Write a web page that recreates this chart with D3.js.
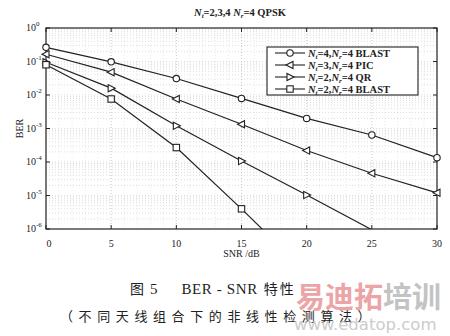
<!DOCTYPE html>
<html>
<head>
<meta charset="utf-8">
<script src="https://cdn.jsdelivr.net/npm/d3@7"></script>
<style>
  body { margin: 0; background: #fff; }
  svg { display: block; }
</style>
</head>
<body>
<script>
// data
var snr = [0, 5, 10, 15, 20, 25, 30];
var blast4 = [0.265, 0.098, 0.031, 0.0079, 0.002, 0.00064, 0.000135];
var pic3 = [0.165, 0.048, 0.0076, 0.00134, 0.00022, 0.000046, 0.000012];
var qr2 = [0.095, 0.016, 0.0012, 0.000107, 0.0000103, 0.00000095];
var blast2 = [0.08, 0.0076, 0.00027, 0.000004, 0.00000005];
var xTicks = [0, 5, 10, 15, 20, 25, 30];
var yExps = [0, -1, -2, -3, -4, -5, -6];
var legendLabels = [["4", "4 BLAST"], ["3", "4 PIC"], ["2", "4 QR"], ["2", "4 BLAST"]];

var W = 450, H = 336;
var margin = {top: 28, right: 13, bottom: 107, left: 46};
var width = W - margin.left - margin.right,
    height = H - margin.top - margin.bottom;

var svg = d3.select("body").append("svg")
    .attr("width", W).attr("height", H)
    .style("font-family", "'Liberation Serif', 'DejaVu Serif', serif");

var x = d3.scaleLinear().domain([0, 30]).range([margin.left, margin.left + width]);
var y = d3.scaleLog().domain([1e-6, 1]).range([margin.top + height, margin.top]);

// grid: dotted
var grid = svg.append("g").attr("stroke", "#999").attr("stroke-width", 0.6)
    .attr("stroke-dasharray", "1,2");
for (var s = 1; s < 30; s++) {
    grid.append("line").attr("x1", x(s)).attr("x2", x(s))
        .attr("y1", y(1)).attr("y2", y(1e-6))
        .attr("stroke-opacity", s % 5 == 0 ? 0.9 : 0.35);
}
y.ticks().forEach(function(t) {
    if (t <= 1e-6 || t >= 1) return;
    grid.append("line").attr("x1", x(0)).attr("x2", x(30))
        .attr("y1", y(t)).attr("y2", y(t))
        .attr("stroke-opacity", 0.55);
});

// frame
svg.append("rect").attr("x", x(0)).attr("y", y(1))
    .attr("width", width).attr("height", height)
    .attr("fill", "none").attr("stroke", "#222").attr("stroke-width", 1.2);

// inward ticks
var tk = svg.append("g").attr("stroke", "#222").attr("stroke-width", 1);
xTicks.forEach(function(t) {
    tk.append("line").attr("x1", x(t)).attr("x2", x(t)).attr("y1", y(1e-6)).attr("y2", y(1e-6) - 4);
    tk.append("line").attr("x1", x(t)).attr("x2", x(t)).attr("y1", y(1)).attr("y2", y(1) + 4);
});
yExps.forEach(function(e) {
    var v = Math.pow(10, e);
    tk.append("line").attr("x1", x(0)).attr("x2", x(0) + 4).attr("y1", y(v)).attr("y2", y(v));
    tk.append("line").attr("x1", x(30)).attr("x2", x(30) - 4).attr("y1", y(v)).attr("y2", y(v));
});

// tick labels
svg.append("g").selectAll("text").data(xTicks).enter().append("text")
    .attr("x", d => x(d) + (d == 0 ? 3 : 0)).attr("y", y(1e-6) + 18)
    .attr("text-anchor", "middle").attr("font-size", 10).attr("fill", "#222")
    .text(d => d);

var yl = svg.append("g").selectAll("text").data(yExps).enter().append("text")
    .attr("x", 26).attr("y", d => y(Math.pow(10, d)) + 3)
    .attr("font-size", 10).attr("fill", "#222");
yl.append("tspan").text("10");
yl.append("tspan").attr("dy", -5).attr("font-size", 7).text(d => d);

// axis titles
svg.append("text").attr("x", x(15)).attr("y", 257).attr("text-anchor", "middle")
    .attr("font-size", 10).attr("fill", "#222").text("SNR /dB");
svg.append("text").attr("transform", "translate(23," + y(1e-3) + ") rotate(-90)")
    .attr("text-anchor", "middle").attr("font-size", 10).attr("fill", "#222").text("BER");

// title
var title = svg.append("text").attr("x", 240).attr("y", 16).attr("text-anchor", "middle")
    .attr("font-size", 10.5).attr("font-weight", "bold").attr("fill", "#222");
title.append("tspan").attr("font-style", "italic").text("N");
title.append("tspan").attr("font-size", 7).attr("dy", 2).attr("font-style", "italic").text("t");
title.append("tspan").attr("dy", -2).text("=2,3,4 ");
title.append("tspan").attr("font-style", "italic").text("N");
title.append("tspan").attr("font-size", 7).attr("dy", 2).attr("font-style", "italic").text("r");
title.append("tspan").attr("dy", -2).text("=4 QPSK");

// series
var series = [
    {vals: blast4, mark: "circle"},
    {vals: pic3, mark: "left"},
    {vals: qr2, mark: "right"},
    {vals: blast2, mark: "square"}
];

svg.append("clipPath").attr("id", "clip").append("rect")
    .attr("x", x(0) - 6).attr("y", y(1)).attr("width", width + 12).attr("height", height);

var line = d3.line().x((d, i) => x(snr[i])).y(d => y(d));
var plot = svg.append("g").attr("clip-path", "url(#clip)");

function drawMark(g, type, cx, cy) {
    if (type == "circle") {
        g.append("circle").attr("cx", cx).attr("cy", cy).attr("r", 3.2);
    } else if (type == "square") {
        g.append("rect").attr("x", cx - 3.2).attr("y", cy - 3.2).attr("width", 6.4).attr("height", 6.4);
    } else if (type == "left") {
        g.append("path").attr("d", "M" + (cx - 4) + "," + cy + "L" + (cx + 3) + "," + (cy - 3.6) + "L" + (cx + 3) + "," + (cy + 3.6) + "Z");
    } else {
        g.append("path").attr("d", "M" + (cx + 4) + "," + cy + "L" + (cx - 3) + "," + (cy - 3.6) + "L" + (cx - 3) + "," + (cy + 3.6) + "Z");
    }
}

series.forEach(function(s) {
    plot.append("path").datum(s.vals).attr("d", line)
        .attr("fill", "none").attr("stroke", "#222").attr("stroke-width", 1.2);
    var mg = plot.append("g").attr("fill", "#fff").attr("stroke", "#222").attr("stroke-width", 1.1);
    s.vals.forEach(function(v, i) {
        if (v >= 1e-6) drawMark(mg, s.mark, x(snr[i]), y(v));
    });
});

// legend
var lg = svg.append("g");
lg.append("rect").attr("x", 267).attr("y", 47).attr("width", 151).attr("height", 48)
    .attr("fill", "#fff").attr("stroke", "#222").attr("stroke-width", 1.1);
series.forEach(function(s, i) {
    var ly = 53 + i * 12;
    lg.append("line").attr("x1", 275).attr("x2", 305).attr("y1", ly).attr("y2", ly)
        .attr("stroke", "#222").attr("stroke-width", 1.1);
    var mg = lg.append("g").attr("fill", "#fff").attr("stroke", "#222").attr("stroke-width", 1.1);
    drawMark(mg, s.mark, 290, ly);
    var t = lg.append("text").attr("x", 308).attr("y", ly + 4)
        .attr("font-size", 10.5).attr("font-weight", "bold").attr("fill", "#222");
    t.append("tspan").attr("font-style", "italic").text("N");
    t.append("tspan").attr("font-size", 7).attr("dy", 2).attr("font-style", "italic").text("t");
    t.append("tspan").attr("dy", -2).text("=" + legendLabels[i][0] + ",");
    t.append("tspan").attr("font-style", "italic").text("N");
    t.append("tspan").attr("font-size", 7).attr("dy", 2).attr("font-style", "italic").text("r");
    t.append("tspan").attr("dy", -2).text("=" + legendLabels[i][1]);
});

// caption
var cap = svg.append("text").attr("x", 130).attr("y", 294).attr("font-size", 15).attr("fill", "#222");
cap.append("tspan").attr("font-family", "'Noto Sans CJK SC'").attr("font-size", 14).text("图");
cap.append("tspan").attr("dx", 6).text("5");
cap.append("tspan").attr("dx", 24).attr("letter-spacing", 0.6).text("BER - SNR");
cap.append("tspan").attr("dx", 6).attr("font-family", "'Noto Sans CJK SC'").attr("font-size", 14)
    .attr("letter-spacing", 2).text("特性");

svg.append("text").attr("x", 60).attr("y", 321).attr("font-size", 13)
    .attr("font-family", "'Noto Sans CJK SC'").attr("letter-spacing", 5.6).attr("fill", "#222")
    .text("（不同天线组合下的非线性检测算法）");

// watermark
var wm = svg.append("text").attr("x", 296).attr("y", 308).attr("font-size", 29)
    .attr("font-weight", "bold").attr("font-family", "'Noto Sans CJK SC'").attr("opacity", 0.75);
wm.append("tspan").attr("fill", "#e8868a").text("易迪拓");
wm.append("tspan").attr("fill", "#b0b0b0").text("培训");
svg.append("text").attr("x", 294).attr("y", 330).attr("font-size", 16.5)
    .attr("font-family", "'DejaVu Sans', sans-serif").attr("fill", "#c0c0c0").attr("opacity", 0.8)
    .text("www.edatop.com");
</script>
</body>
</html>
